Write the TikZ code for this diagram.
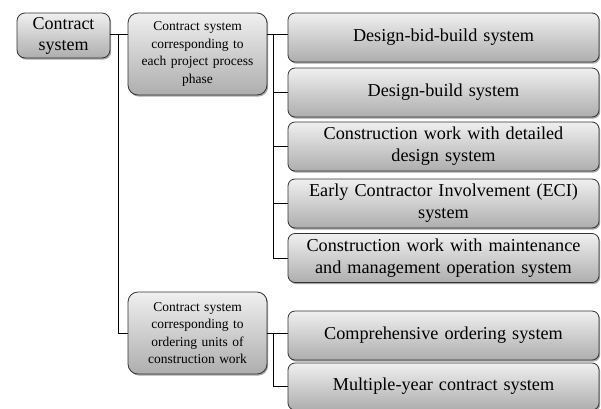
\documentclass[tikz,border=0pt]{standalone}
\usepackage{fontspec}
\setmainfont{Liberation Serif}
\usetikzlibrary{shadows}
\begin{document}
\begin{tikzpicture}[x=1pt,y=1pt,
  boxbase/.style={draw=black!80, line width=0.8pt, rounded corners=8pt,
    top color=black!6, bottom color=black!32, inner sep=2pt, align=center,
    drop shadow={shadow xshift=1.2pt, shadow yshift=-1.6pt, fill=black, opacity=0.35}},
  rootbox/.style={boxbase, minimum width=93pt, minimum height=45pt, text width=89pt,
    font=\fontsize{18}{21}\selectfont},
  midbox/.style={boxbase, rounded corners=10pt, minimum width=139pt, minimum height=82pt, text width=132pt,
    font=\fontsize{13.5}{17.5}\selectfont},
  leafbox/.style={boxbase, rounded corners=7pt, minimum width=311pt, minimum height=49pt, text width=305pt,
    font=\fontsize{18.2}{22}\selectfont},
  link/.style={draw=black, line width=0.8pt}
]
\useasboundingbox (0,0) rectangle (601,-408);
\node[rootbox] (root) at (63.5,-35.5) {Contract\\system};
\node[midbox] (mid1) at (197.5,-54) {Contract system\\corresponding to\\each project process\\phase};
\node[midbox] (mid2) at (197.5,-333) {Contract system\\corresponding to\\ordering units of\\construction work};
\node[leafbox] (r1) at (443.5,-37.5) {Design-bid-build system};
\node[leafbox] (r2) at (443.5,-92.5) {Design-build system};
\node[leafbox] (r3) at (443.5,-146.5) {Construction work with detailed\\design system};
\node[leafbox] (r4) at (443.5,-203.5) {Early Contractor Involvement (ECI)\\system};
\node[leafbox] (r5) at (443.5,-258) {Construction work with maintenance\\and management operation system};
\node[leafbox] (r6) at (443.5,-335.5) {Comprehensive ordering system};
\node[leafbox, minimum height=47pt] (r7) at (443.5,-386.5) {Multiple-year contract system};

\coordinate (ra) at ([yshift=1.5pt]root.east);
\coordinate (t1) at (118,0);
\coordinate (t2) at (273,0);
\path[link] (ra) -- (ra -| mid1.west);
\path[link] (ra -| t1) |- (mid2.west);
\path[link] (ra -| mid1.east) -- (ra -| r1.west);
\path[link] (ra -| t2) |- (r5.west);
\path[link] (t2 |- r2.west) -- (r2.west);
\path[link] (t2 |- r3.west) -- (r3.west);
\path[link] (t2 |- r4.west) -- (r4.west);
\path[link] (mid2.east) -- (mid2.east -| r6.west);
\path[link] (mid2.east -| t2) |- (r7.west);
\end{tikzpicture}
\end{document}
